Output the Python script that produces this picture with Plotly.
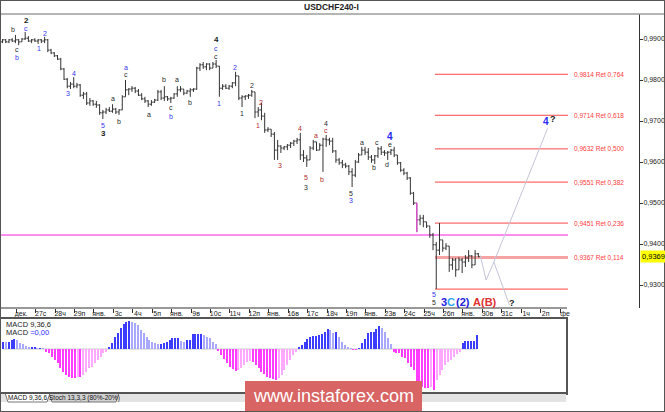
import plotly.graph_objects as go

W, H = 665, 412

# ---------------- price data (USDCHF, 4H bars) ----------------
opens = [0.9893, 0.9898, 0.9893, 0.9898, 0.9895, 0.9898, 0.9893, 0.9900, 0.9902, 0.9895,
         0.9898, 0.9895, 0.9898, 0.9895, 0.9898, 0.9873, 0.9866, 0.9859, 0.9851, 0.9827,
         0.9802, 0.9785, 0.9790, 0.9785, 0.9788, 0.9763, 0.9766, 0.9744, 0.9749, 0.9741,
         0.9739, 0.9720, 0.9722, 0.9727, 0.9724, 0.9729, 0.9722, 0.9727, 0.9759, 0.9776,
         0.9778, 0.9780, 0.9773, 0.9763, 0.9754, 0.9749, 0.9741, 0.9746, 0.9751, 0.9771,
         0.9756, 0.9759, 0.9754, 0.9756, 0.9766, 0.9776, 0.9778, 0.9768, 0.9773, 0.9776,
         0.9778, 0.9829, 0.9837, 0.9832, 0.9839, 0.9829, 0.9839, 0.9834, 0.9780, 0.9785,
         0.9780, 0.9785, 0.9793, 0.9810, 0.9756, 0.9759, 0.9761, 0.9763, 0.9771, 0.9722,
         0.9727, 0.9712, 0.9678, 0.9680, 0.9668, 0.9629, 0.9639, 0.9634, 0.9637, 0.9641,
         0.9646, 0.9651, 0.9654, 0.9617, 0.9610, 0.9605, 0.9634, 0.9649, 0.9629, 0.9641,
         0.9656, 0.9654, 0.9651, 0.9627, 0.9605, 0.9598, 0.9593, 0.9590, 0.9576, 0.9568,
         0.9600, 0.9617, 0.9629, 0.9624, 0.9612, 0.9605, 0.9615, 0.9632, 0.9624, 0.9622,
         0.9624, 0.9629, 0.9617, 0.9598, 0.9580, 0.9573, 0.9561, 0.9524, 0.9500, 0.9459,
         0.9463, 0.9454, 0.9444, 0.9422, 0.9398, 0.9385, 0.9410, 0.9390, 0.9395, 0.9349,
         0.9361, 0.9337, 0.9361, 0.9356, 0.9366, 0.9371, 0.9349, 0.9376]
highs = [0.9900, 0.9900, 0.9900, 0.9902, 0.9910, 0.9900, 0.9902, 0.9917, 0.9907, 0.9900,
         0.9902, 0.9900, 0.9900, 0.9905, 0.9900, 0.9876, 0.9868, 0.9861, 0.9854, 0.9829,
         0.9805, 0.9795, 0.9807, 0.9793, 0.9790, 0.9771, 0.9771, 0.9756, 0.9751, 0.9749,
         0.9741, 0.9727, 0.9732, 0.9734, 0.9741, 0.9732, 0.9729, 0.9763, 0.9800, 0.9780,
         0.9785, 0.9783, 0.9778, 0.9768, 0.9759, 0.9751, 0.9751, 0.9754, 0.9776, 0.9776,
         0.9785, 0.9761, 0.9759, 0.9768, 0.9785, 0.9785, 0.9778, 0.9776, 0.9780, 0.9780,
         0.9832, 0.9841, 0.9844, 0.9841, 0.9841, 0.9844, 0.9849, 0.9834, 0.9790, 0.9790,
         0.9788, 0.9795, 0.9820, 0.9810, 0.9763, 0.9763, 0.9766, 0.9776, 0.9771, 0.9734,
         0.9744, 0.9720, 0.9685, 0.9680, 0.9673, 0.9654, 0.9641, 0.9639, 0.9644, 0.9649,
         0.9654, 0.9659, 0.9671, 0.9629, 0.9617, 0.9639, 0.9654, 0.9649, 0.9646, 0.9659,
         0.9666, 0.9659, 0.9659, 0.9629, 0.9610, 0.9605, 0.9598, 0.9593, 0.9585, 0.9605,
         0.9622, 0.9637, 0.9637, 0.9634, 0.9617, 0.9617, 0.9637, 0.9639, 0.9629, 0.9627,
         0.9632, 0.9637, 0.9617, 0.9600, 0.9585, 0.9576, 0.9563, 0.9527, 0.9500, 0.9471,
         0.9471, 0.9454, 0.9444, 0.9427, 0.9405, 0.9451, 0.9410, 0.9402, 0.9395, 0.9366,
         0.9366, 0.9368, 0.9366, 0.9373, 0.9385, 0.9373, 0.9385, 0.9378]
lows = [0.9890, 0.9890, 0.9890, 0.9893, 0.9890, 0.9885, 0.9893, 0.9898, 0.9893, 0.9890,
        0.9893, 0.9888, 0.9890, 0.9890, 0.9868, 0.9863, 0.9856, 0.9849, 0.9824, 0.9800,
        0.9780, 0.9778, 0.9780, 0.9780, 0.9759, 0.9754, 0.9739, 0.9737, 0.9737, 0.9732,
        0.9715, 0.9705, 0.9717, 0.9722, 0.9720, 0.9717, 0.9715, 0.9727, 0.9759, 0.9763,
        0.9771, 0.9768, 0.9761, 0.9751, 0.9744, 0.9734, 0.9737, 0.9744, 0.9749, 0.9751,
        0.9749, 0.9749, 0.9744, 0.9754, 0.9759, 0.9771, 0.9763, 0.9766, 0.9759, 0.9771,
        0.9776, 0.9822, 0.9827, 0.9824, 0.9824, 0.9829, 0.9829, 0.9759, 0.9776, 0.9778,
        0.9776, 0.9780, 0.9785, 0.9751, 0.9734, 0.9751, 0.9754, 0.9759, 0.9707, 0.9710,
        0.9702, 0.9671, 0.9673, 0.9661, 0.9605, 0.9605, 0.9622, 0.9629, 0.9629, 0.9634,
        0.9639, 0.9644, 0.9605, 0.9600, 0.9588, 0.9605, 0.9629, 0.9627, 0.9629, 0.9576,
        0.9637, 0.9641, 0.9622, 0.9598, 0.9593, 0.9585, 0.9585, 0.9568, 0.9539, 0.9563,
        0.9598, 0.9617, 0.9617, 0.9605, 0.9598, 0.9595, 0.9610, 0.9617, 0.9615, 0.9605,
        0.9617, 0.9612, 0.9593, 0.9576, 0.9568, 0.9556, 0.9520, 0.9495, 0.9429, 0.9446,
        0.9441, 0.9439, 0.9415, 0.9385, 0.9290, 0.9373, 0.9381, 0.9385, 0.9332, 0.9337,
        0.9320, 0.9337, 0.9329, 0.9344, 0.9356, 0.9341, 0.9349, 0.9368]
closes = [0.9898, 0.9893, 0.9898, 0.9895, 0.9898, 0.9893, 0.9900, 0.9902, 0.9895, 0.9898,
          0.9895, 0.9898, 0.9895, 0.9898, 0.9873, 0.9866, 0.9859, 0.9851, 0.9827, 0.9802,
          0.9785, 0.9790, 0.9785, 0.9788, 0.9763, 0.9766, 0.9744, 0.9749, 0.9741, 0.9739,
          0.9720, 0.9722, 0.9727, 0.9724, 0.9729, 0.9722, 0.9727, 0.9759, 0.9776, 0.9778,
          0.9780, 0.9773, 0.9763, 0.9754, 0.9749, 0.9741, 0.9746, 0.9751, 0.9771, 0.9756,
          0.9759, 0.9754, 0.9756, 0.9766, 0.9776, 0.9778, 0.9768, 0.9773, 0.9776, 0.9778,
          0.9829, 0.9837, 0.9832, 0.9839, 0.9829, 0.9839, 0.9834, 0.9780, 0.9785, 0.9780,
          0.9785, 0.9793, 0.9810, 0.9756, 0.9759, 0.9761, 0.9763, 0.9771, 0.9722, 0.9727,
          0.9712, 0.9678, 0.9680, 0.9668, 0.9629, 0.9639, 0.9634, 0.9637, 0.9641, 0.9646,
          0.9651, 0.9654, 0.9617, 0.9610, 0.9605, 0.9634, 0.9649, 0.9629, 0.9641, 0.9656,
          0.9654, 0.9651, 0.9627, 0.9605, 0.9598, 0.9593, 0.9590, 0.9576, 0.9568, 0.9600,
          0.9617, 0.9629, 0.9624, 0.9612, 0.9605, 0.9615, 0.9632, 0.9624, 0.9622, 0.9624,
          0.9629, 0.9617, 0.9598, 0.9580, 0.9573, 0.9561, 0.9524, 0.9500, 0.9459, 0.9463,
          0.9454, 0.9444, 0.9422, 0.9398, 0.9385, 0.9410, 0.9390, 0.9395, 0.9349, 0.9361,
          0.9337, 0.9361, 0.9356, 0.9366, 0.9371, 0.9349, 0.9376, 0.9369]
bar_index = list(range(len(closes)))
marked_bar = 128          # bar drawn in magenta
last_price = 0.9369

# x-axis day labels (one per trading day)
day_labels = ["дек.", "27с", "28ч", "29п", "янв.", "3с", "4ч", "5п", "янв.", "9в",
              "10с", "11ч", "12п", "янв.", "16в", "17с", "18ч", "19п", "янв.", "23в",
              "24с", "25ч", "26п", "янв.", "30в", "31с", "1ч", "2п", "фе"]
bars_per_day = 6
first_day_bar = 4.25
price_ticks = [0.93, 0.94, 0.95, 0.96, 0.97, 0.98, 0.99]
price_tick_text = ["0,9300", "0,9400", "0,9500", "0,9600", "0,9700", "0,9800", "0,9900"]

# Fibonacci retracement levels
fib_levels = [0.9814, 0.9714, 0.9632, 0.9551, 0.9451, 0.9367, 0.9290]
fib_labels = ["0,9814 Ret 0,764", "0,9714 Ret 0,618", "0,9632 Ret 0,500",
              "0,9551 Ret 0,382", "0,9451 Ret 0,236", "0,9367 Ret 0,114", ""]
fib_start, fib_end = 133.6, 174.7
pink_level = 0.9422

# forecast paths
path_main_x = [147.6, 149.4, 151.8, 168.4]
path_main_y = [0.9372, 0.9312, 0.9356, 0.9682]
path_alt_x = [151.8, 156.6]
path_alt_y = [0.9356, 0.9251]

# wave labels: text, bar index, price, style
wave_text = ["b", "c", "b", "2", "c", "1", "2", "3", "4", "5", "3", "a", "b", "a", "c",
             "a", "b", "c", "b", "a", "b", "4", "c", "c", "1", "2", "1", "2", "1", "2",
             "3", "4", "5", "3", "a", "b", "4", "c", "5", "3", "a", "b", "c", "d", "e",
             "4", "5", "5", "3", "C", "(2)", "A", "(B)", "?", "4", "?"]
wave_x = [3.3, 4.4, 4.4, 7.3, 7.3, 11.3, 13.1, 20.1, 22.1, 31.1, 31.1, 34.0, 36.0, 38.2, 38.2,
          45.2, 50.0, 52.1, 52.1, 54.0, 57.9, 66.0, 66.0, 66.0, 67.0, 71.8, 73.9, 77.0, 78.8, 79.9,
          85.7, 91.9, 93.8, 93.8, 96.8, 98.8, 99.8, 99.8, 107.7, 107.7, 111.0, 114.8, 115.6, 118.7, 119.7,
          119.7, 133.3, 133.3, 136.3, 138.6, 142.3, 146.6, 150.3, 157.3, 167.9, 170.1]
wave_y = [0.99244, 0.98756, 0.98544, 0.99440, 0.99268, 0.98780, 0.99146, 0.97659, 0.98171, 0.96902,
          0.96707, 0.97561, 0.96976, 0.98293, 0.98146, 0.97171, 0.98024, 0.97341, 0.97122, 0.98024,
          0.97463, 0.99000, 0.98780, 0.98585, 0.97439, 0.98317, 0.97195, 0.97854, 0.96902, 0.97463,
          0.95927, 0.96829, 0.95610, 0.95390, 0.96658, 0.95585, 0.96951, 0.96780, 0.95244, 0.95049,
          0.96488, 0.95854, 0.96488, 0.95951, 0.96439, 0.96634, 0.92780, 0.92585, 0.92585, 0.92585,
          0.92585, 0.92585, 0.92585, 0.92570, 0.96976, 0.97049]
wave_style = ["k", "k", "b", "K", "b", "b", "b", "b", "b", "b", "K", "k", "k", "b", "k",
              "k", "k", "k", "b", "k", "k", "K", "b", "k", "b", "b", "k", "k", "r", "r",
              "r", "r", "r", "k", "r", "r", "k", "r", "k", "b", "k", "k", "k", "k", "k",
              "B", "b", "k", "BB", "C", "BB", "R", "R", "q", "B", "q"]

# MACD histogram (x1e-4)
macd_hist = [7, 6.7, 7, 9, 10, 9, 6, 5, 3, 2, 2, 2, 1, 1, 0.5,
             -2.7, -4, -8, -11, -14, -19, -23, -26, -28, -29, -29, -28, -28, -26, -23, -19, -18, -14, -11, -8, -4, -3,
             2, 6, 12, 16, 21, 25, 27, 28, 27, 26, 24, 19, 16, 12, 9, 7, 6, 5, 5, 6, 7, 9, 11, 11, 11, 8, 7, 9, 9,
             15, 15, 15, 15, 14, 12, 11, 7, 5,
             -2, -6, -10, -14, -18, -20, -22, -21, -19, -16, -13, -12, -13, -16, -19, -23, -25, -28, -29, -30,
             -31, -29, -26, -21, -16, -11, -6, -3,
             2, 4, 7, 10, 12, 13, 13, 14, 15, 17, 20, 19,
             16, 17, 12, 7, 4, 2, 1,
             -1, -1,
             1, 6, 10, 16, 17, 17, 20, 23, 21, 17, 11, 5,
             -3, -4, -4, -8, -9, -14, -18, -21, -33, -36, -38, -39, -39, -38, -41, -31, -26, -21, -16, -13,
             -11, -8, -5, -3,
             6, 8, 8, 8, 8, 14]
macd_index = list(range(len(macd_hist)))

# ---------------- helpers for paper placement ----------------
def fx(px):
    return px / W

def fy(py):
    return 1 - py / H

FONT = "Liberation Sans"
BAR_COLOR = "#333333"

fig = go.Figure()

fig.add_trace(go.Ohlc(
    x=bar_index, open=opens, high=highs, low=lows, close=closes,
    increasing=dict(line=dict(color=BAR_COLOR, width=1)),
    decreasing=dict(line=dict(color=BAR_COLOR, width=1)),
    tickwidth=0.45, hoverinfo="skip", showlegend=False, xaxis="x", yaxis="y"))

fig.add_trace(go.Ohlc(
    x=[bar_index[marked_bar]], open=[opens[marked_bar]], high=[highs[marked_bar]],
    low=[lows[marked_bar]], close=[closes[marked_bar]],
    increasing=dict(line=dict(color="#ff44ee", width=1)),
    decreasing=dict(line=dict(color="#ff44ee", width=1)),
    tickwidth=0.45, hoverinfo="skip", showlegend=False, xaxis="x", yaxis="y"))

fig.add_trace(go.Scatter(x=path_main_x, y=path_main_y, mode="lines",
                         line=dict(color="#c4c4d8", width=1), hoverinfo="skip",
                         showlegend=False, xaxis="x", yaxis="y"))
fig.add_trace(go.Scatter(x=path_alt_x, y=path_alt_y, mode="lines",
                         line=dict(color="#c4c4d8", width=1), hoverinfo="skip",
                         showlegend=False, xaxis="x", yaxis="y"))

# MACD colours: strong when moving away from zero, pale when returning
macd_colors = []
for j, v in enumerate(macd_hist):
    prev = macd_hist[j - 1] if j else v
    if v >= 0:
        macd_colors.append("#3c3cff" if v >= prev else "#a8a8ff")
    else:
        macd_colors.append("#ff3cff" if v <= prev else "#ffa8ff")

fig.add_trace(go.Bar(x=macd_index, y=macd_hist, marker=dict(color=macd_colors, line=dict(width=0)),
                     width=0.4, hoverinfo="skip", showlegend=False, xaxis="x2", yaxis="y2"))

shapes = []
# horizontal pink level
shapes.append(dict(type="line", xref="x", yref="y", x0=-0.5, x1=fib_end, y0=pink_level, y1=pink_level,
                   line=dict(color="#ff8cf0", width=2), layer="below"))
# fib lines
for lvl in fib_levels:
    special = abs(lvl - 0.9367) < 1e-6
    shapes.append(dict(type="line", xref="x", yref="y", x0=fib_start, x1=fib_end, y0=lvl, y1=lvl,
                       line=dict(color="#f5a3a3" if special else "#ff4747", width=3 if special else 1),
                       layer="below"))
# MACD zero line
shapes.append(dict(type="line", xref="x2", yref="y2", x0=0, x1=macd_index[-1], y0=0, y1=0,
                   line=dict(color="#c8c8c8", width=1), layer="below"))
# main x axis baseline
shapes.append(dict(type="line", xref="paper", yref="paper", x0=0, x1=fx(567), y0=fy(308), y1=fy(308),
                   line=dict(color="#333333", width=1)))
# title separator
shapes.append(dict(type="line", xref="paper", yref="paper", x0=0, x1=1, y0=fy(14), y1=fy(14),
                   line=dict(color="#9c9c9c", width=1.5)))
# tab strip
shapes.append(dict(type="rect", xref="paper", yref="paper", x0=0, x1=fx(566), y0=fy(402), y1=fy(393),
                   fillcolor="#e3e3e3", line=dict(width=0), layer="above"))
def tab_path(x0, x1):
    return (f"M {fx(x0)} {fy(393)} L {fx(x0 + 3)} {fy(402)} L {fx(x1 - 3)} {fy(402)} "
            f"L {fx(x1)} {fy(393)} Z")
shapes.append(dict(type="path", xref="paper", yref="paper", path=tab_path(49, 119),
                   fillcolor="#d2d2d2", line=dict(color="#777777", width=1), layer="above"))
shapes.append(dict(type="path", xref="paper", yref="paper", path=tab_path(5, 50),
                   fillcolor="#ffffff", line=dict(color="#777777", width=1), layer="above"))
shapes.append(dict(type="line", xref="paper", yref="paper", x0=0, x1=fx(566), y0=fy(393), y1=fy(393),
                   line=dict(color="#555555", width=2), layer="above"))
# watermark box
shapes.append(dict(type="rect", xref="paper", yref="paper", x0=fx(245), x1=fx(422), y0=fy(411), y1=fy(381),
                   fillcolor="#d86464", line=dict(width=0), layer="above"))
# outer frame
shapes.append(dict(type="rect", xref="paper", yref="paper", x0=0, x1=1, y0=0, y1=1,
                   line=dict(color="#555555", width=2), layer="above"))

styles = {
    "k": dict(color="#2a2a2a", size=7, bold=False),
    "b": dict(color="#3535f0", size=7, bold=False),
    "r": dict(color="#b02a2a", size=7, bold=False),
    "K": dict(color="#1a1a1a", size=8, bold=True),
    "B": dict(color="#2a2af5", size=10, bold=True),
    "BB": dict(color="#2222dd", size=11, bold=True),
    "C": dict(color="#33a6ee", size=11, bold=True),
    "R": dict(color="#e03030", size=11, bold=True),
    "q": dict(color="#1a1a1a", size=9, bold=True),
}

annotations = []
for t, x, y, s in zip(wave_text, wave_x, wave_y, wave_style):
    st = styles[s]
    annotations.append(dict(x=x, y=y, xref="x", yref="y", showarrow=False,
                            xanchor="center", yanchor="middle",
                            text=f"<b>{t}</b>" if st["bold"] else t,
                            font=dict(family=FONT, size=st["size"], color=st["color"])))
for lvl, lab in zip(fib_levels, fib_labels):
    if lab:
        annotations.append(dict(x=fib_end + 1.2, y=lvl, xref="x", yref="y", showarrow=False,
                                xanchor="left", yanchor="middle", text=lab,
                                font=dict(family=FONT, size=6.5, color="#ff3b3b")))
# current price tag
annotations.append(dict(x=fx(640), y=last_price, xref="paper", yref="y", showarrow=False,
                        xanchor="left", yanchor="middle", text=f"{last_price:.4f}".replace(".", ","),
                        bgcolor="#ffff00", borderpad=1,
                        font=dict(family=FONT, size=7.5, color="#000000")))

def paper_text(px, py, text, size, color="#222222", anchor="center"):
    annotations.append(dict(x=fx(px), y=fy(py), xref="paper", yref="paper", showarrow=False,
                            xanchor=anchor, yanchor="middle", text=text,
                            font=dict(family=FONT, size=size, color=color)))

# title
paper_text(331, 6.5, "<b>USDCHF240-I</b>", 8.5)
# MACD captions
paper_text(4, 324, "MACD 9,36,6", 7.5, anchor="left")
paper_text(4, 332, "MACD <span style='color:#3030ff'>=0,00</span>", 7.5, anchor="left")
# tabs
paper_text(27.5, 397.5, "MACD 9,36,6", 6.5, "#111111")
paper_text(84, 397.5, "Stoch 13,3,3 (80%-20%)", 6.5, "#111111")
# watermark text
paper_text(333, 396, "www.instaforex.com", 18, "#ffffff")

x_lo, x_hi = -0.463, 196.63
fig.update_layout(
    width=W, height=H,
    margin=dict(l=0, r=0, t=0, b=0),
    paper_bgcolor="#ffffff", plot_bgcolor="#ffffff",
    showlegend=False, hovermode=False, bargap=0,
    font=dict(family=FONT, size=8, color="#222222"),
    xaxis=dict(domain=[fx(1), fx(639)], range=[x_lo, x_hi], anchor="y",
               tickvals=[first_day_bar + bars_per_day * k for k in range(len(day_labels))],
               ticktext=day_labels, ticks="outside", ticklen=4, tickcolor="#333333",
               ticklabelshift=5, ticklabelstandoff=-5,
               tickfont=dict(family=FONT, size=7, color="#222222"),
               showline=False, showgrid=False, zeroline=False,
               rangeslider=dict(visible=False)),
    yaxis=dict(domain=[fy(308), fy(14)], range=[0.92439, 0.99610], anchor="x", side="right",
               tickvals=price_ticks, ticktext=price_tick_text, ticks="outside", ticklen=3,
               ticklabelstandoff=-1,
               tickcolor="#333333", tickfont=dict(family=FONT, size=7, color="#222222"),
               showline=True, linecolor="#333333", linewidth=1,
               showgrid=False, zeroline=False),
    xaxis2=dict(domain=[fx(1), fx(566)], range=[-0.696, 195.98], anchor="y2",
                showline=True, mirror=True, linecolor="#555555", linewidth=1.5,
                ticks="", showticklabels=False, showgrid=False, zeroline=False),
    yaxis2=dict(domain=[fy(393), fy(319)], range=[-44, 30], anchor="x2",
                showline=True, mirror=True, linecolor="#555555", linewidth=1.5,
                ticks="", showticklabels=False, showgrid=False, zeroline=False),
    shapes=shapes,
    annotations=annotations,
)

fig.write_html("out.html", config={"displayModeBar": False},
               post_script="document.body.style.margin='0';document.body.style.overflow='hidden';")
